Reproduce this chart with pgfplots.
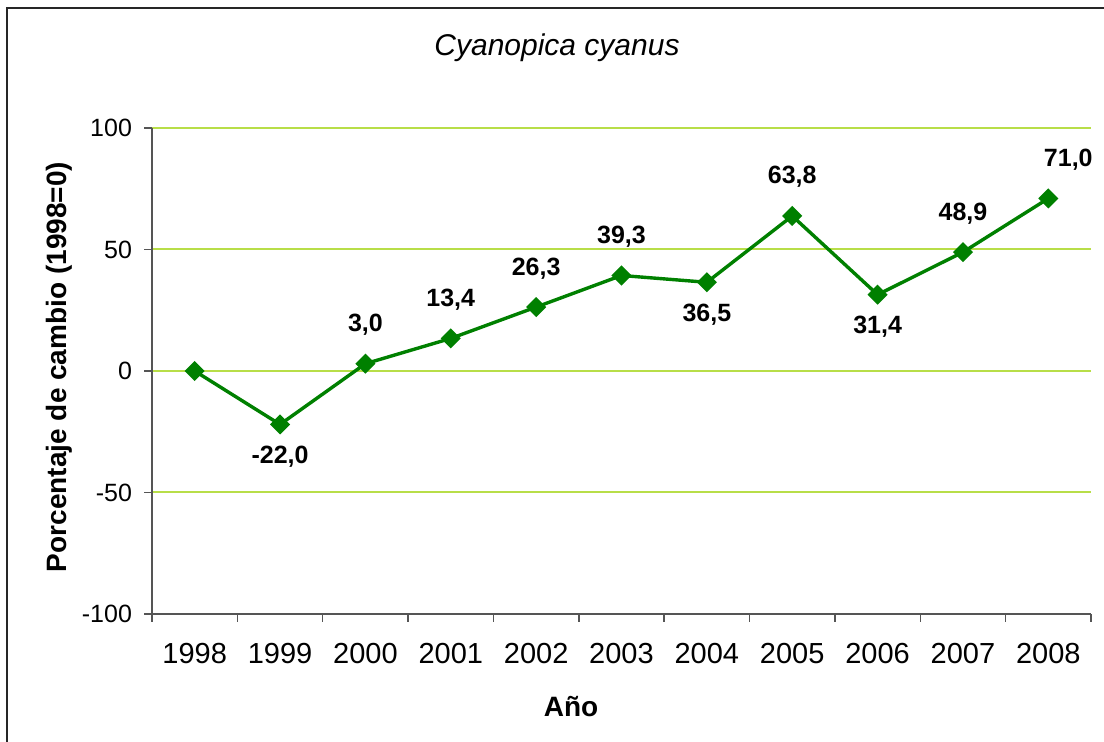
\documentclass[border=0pt]{standalone}
\usepackage{pgfplots}
\pgfplotsset{compat=1.18}
\usepackage{fontspec}
\setmainfont{Liberation Sans}

\definecolor{linegreen}{RGB}{0,128,0}
\definecolor{gridgreen}{RGB}{184,222,72}
\definecolor{axisgray}{RGB}{85,85,85}

\begin{document}
\begin{tikzpicture}
  \begin{axis}[
      at={(76pt,64pt)}, anchor=south west,
      scale only axis,
      width=469.5pt, height=243pt,
      xmin=-0.5, xmax=10.5,
      ymin=-100, ymax=100,
      axis x line*=bottom,
      axis y line*=left,
      axis line style={axisgray, line width=0.7pt, -},
      xtick={-0.5,0.5,...,10.5},
      x tick label as interval,
      xticklabels={1998,1999,2000,2001,2002,2003,2004,2005,2006,2007,2008},
      ytick={-100,-50,0,50,100},
      tick align=outside,
      major tick length=4pt,
      tick style={axisgray, line width=0.7pt},
      ymajorgrids,
      major grid style={gridgreen, line width=1pt},
      /pgf/number format/assume math mode=true,
      xticklabel style={font=\fontsize{14.5}{17}\selectfont, yshift=-7pt},
      yticklabel style={font=\fontsize{12.5}{15}\selectfont, xshift=-2.5pt},
  ]
  \addplot[
      color=linegreen,
      line width=1.7pt,
      mark=square*,
      mark size=2.7pt,
      mark options={rotate=45, solid, fill=linegreen},
      ]
      coordinates {
          (0, 0.0)
          (1, -22.0)
          (2, 3.0)
          (3, 13.4)
          (4, 26.3)
          (5, 39.3)
          (6, 36.5)
          (7, 63.8)
          (8, 31.4)
          (9, 48.9)
          (10, 71.0)
      };

  % labels above the points
  \addplot[
      draw=none, mark=none,
      point meta=y,
      nodes near coords={\pgfmathprintnumber[fixed,fixed zerofill,precision=1,use comma]{\pgfplotspointmeta}},
      every node near coord/.append style={anchor=base, yshift=16pt,
          font=\bfseries\fontsize{12.5}{15}\selectfont},
      ]
      coordinates {
          (2, 3.0)
          (3, 13.4)
          (4, 26.3)
          (5, 39.3)
          (7, 63.8)
          (9, 48.9)
      };

  \addplot[
      draw=none, mark=none,
      point meta=y,
      nodes near coords={\pgfmathprintnumber[fixed,fixed zerofill,precision=1,use comma]{\pgfplotspointmeta}},
      every node near coord/.append style={anchor=base, yshift=16pt, xshift=10pt,
          font=\bfseries\fontsize{12.5}{15}\selectfont},
      ]
      coordinates {
          (10, 71.0)
      };

  % labels below the points
  \addplot[
      draw=none, mark=none,
      point meta=y,
      nodes near coords={\pgfmathprintnumber[fixed,fixed zerofill,precision=1,use comma]{\pgfplotspointmeta}},
      every node near coord/.append style={anchor=base, yshift=-19.5pt,
          font=\bfseries\fontsize{12.5}{15}\selectfont},
      ]
      coordinates {
          (1, -22.0)
          (6, 36.5)
          (8, 31.4)
      };
  \end{axis}

  % chart frame (right and bottom edges fall outside the picture)
  \draw[black!85, line width=1pt] (3.5pt,-20pt) |- (620pt,367pt);

  \node[anchor=base, font=\itshape\fontsize{15}{18}\selectfont] at (278.5pt,343pt) {Cyanopica cyanus};
  \node[anchor=base, rotate=90, font=\bfseries\fontsize{14}{17}\selectfont] at (33pt,187.5pt) {Porcentaje de cambio (1998=0)};
  \node[anchor=base, font=\bfseries\fontsize{14}{17}\selectfont] at (285.5pt,12.5pt) {Año};

  \pgfresetboundingbox
  \useasboundingbox (0,0) rectangle (552pt,371pt);
\end{tikzpicture}
\end{document}
